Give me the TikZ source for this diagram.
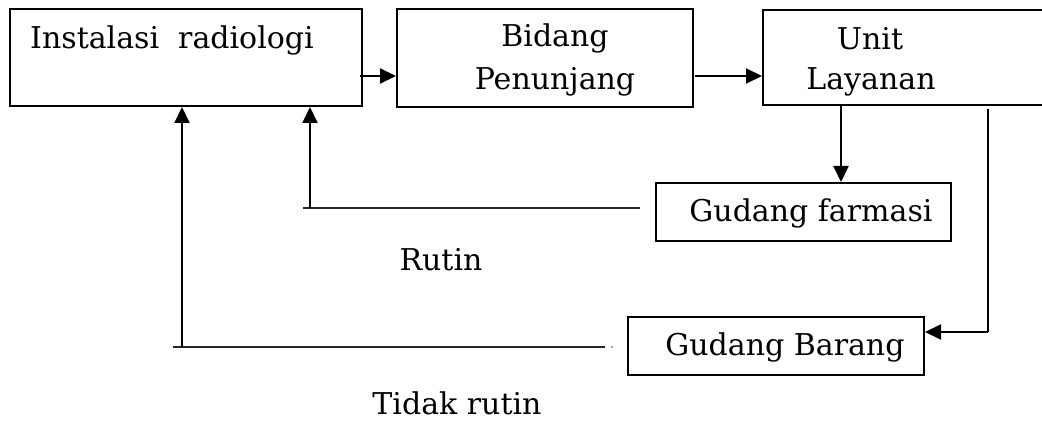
\documentclass[tikz,border=0pt]{standalone}
\usepackage{fontspec}
\setmainfont{DejaVu Serif}
\usetikzlibrary{arrows.meta}
\begin{document}
\begin{tikzpicture}[x=1pt,y=-1pt,
  box/.style={draw,line width=2pt,anchor=north west,inner sep=0pt},
  lbl/.style={font=\fontsize{30}{35}\selectfont,inner sep=0pt,anchor=base},
  arr/.style={line width=2pt,-{Triangle[length=16pt,width=15pt]}},
  flow/.style={line width=2pt},
  thinline/.style={line width=1.4pt,black!85}]
\useasboundingbox (0,0) rectangle (1042,422);
% boxes
\node[box,minimum width=352pt,minimum height=97pt] (A) at (9,8) {};
\node[box,minimum width=296pt,minimum height=98pt] (B) at (396,8) {};
\node[box,minimum width=300pt,minimum height=95pt] (C) at (762,9) {};
\node[box,minimum width=295pt,minimum height=58pt] (D) at (655,182) {};
\node[box,minimum width=296pt,minimum height=58pt] (E) at (627,316) {};
% texts
\node[lbl,anchor=base west] (tA) at (30,49) {Instalasi\ \ radiologi};
\node[lbl] (tB1) at (555,47) {Bidang};
\node[lbl] (tB2) at (555,90) {Penunjang};
\node[lbl] (tC1) at (870,50) {Unit};
\node[lbl] (tC2) at (871,90) {Layanan};
\node[lbl] (tD) at (811,222) {Gudang farmasi};
\node[lbl] (tE) at (785,355) {Gudang Barang};
\node[lbl] (rutin) at (441,271) {Rutin};
\node[lbl] (tidak) at (457,414) {Tidak rutin};
% helper coordinates
\coordinate (ya) at (0,76);
\coordinate (xcd) at (841,0);
\coordinate (xce) at (988,0);
\coordinate (ye) at (0,332);
\coordinate (r1) at (640,208);
\coordinate (r2) at (303,208);
\coordinate (rv) at (310,208);
\coordinate (t1) at (605,347);
\coordinate (t2) at (173,347);
\coordinate (tv) at (182,347);
\coordinate (tdot) at (612,347);
% connectors
\draw[arr] ([xshift=-3pt]A.east |- ya) -- (B.west |- ya);
\draw[arr] ([xshift=1pt]B.east |- ya) -- (C.west |- ya);
\draw[arr] (C.south -| xcd) -- (D.north -| xcd);
\draw[flow] ([yshift=-3pt]C.south -| xce) -- (xce |- ye);
\draw[arr] (xce |- ye) -- (E.east |- ye);
\draw[thinline] (r1) -- (r2);
\draw[arr] (rv) -- (A.south -| rv);
\draw[thinline] (t1) -- (t2);
\draw[arr] (tv) -- (A.south -| tv);
\fill[black!70] (tdot) circle (0.8pt);
\end{tikzpicture}
\end{document}
